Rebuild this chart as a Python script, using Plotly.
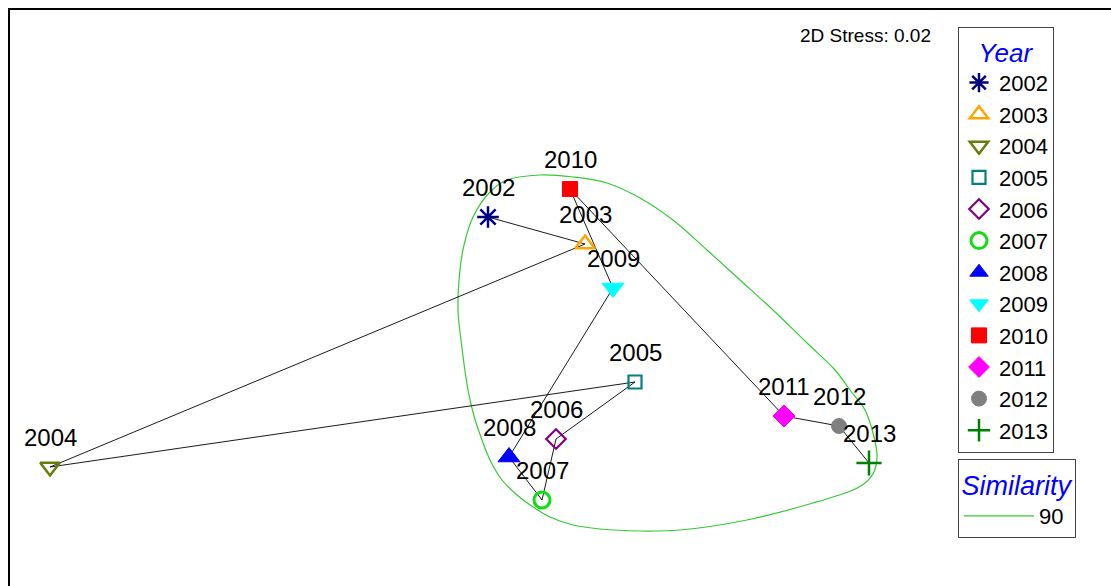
import plotly.graph_objects as go

# ---- data (MDS coordinates) ----
years = ["2002", "2003", "2004", "2005", "2006", "2007",
         "2008", "2009", "2010", "2011", "2012", "2013"]
mds_x = [-0.36, 0.125, -2.55, 0.375, -0.02, -0.09,
         -0.255, 0.265, 0.05, 1.12, 1.395, 1.545]
mds_y = [0.665, 0.53, -0.585, -0.16, -0.445, -0.75,
         -0.535, 0.31, 0.805, -0.33, -0.38, -0.565]

symbols = ["asterisk-open", "triangle-up-open", "triangle-down-open", "square-open",
           "diamond-open", "circle-open", "triangle-up", "triangle-down",
           "square", "diamond", "circle", "cross-thin-open"]
colors = ["#000080", "#FFA500", "#6B7A0A", "#008080", "#800080", "#11DD11",
          "#0000FF", "#00FFFF", "#FF0000", "#FF00FF", "#808080", "#008000"]
sizes = [18, 17, 17, 13, 15, 16, 19, 19, 15, 17, 15, 18]
line_widths = [2.5, 2.5, 2.5, 2.2, 2.2, 3, 1, 1, 1, 1, 1, 2.5]

# similarity 90 contour (closed)
contour_x = [-0.10, 0.065, 0.235, 0.40, 0.565, 0.735, 0.90, 1.065, 1.235, 1.375,
             1.45, 1.525, 1.565, 1.585, 1.57, 1.525, 1.465, 1.265, 0.935, 0.60,
             0.40, 0.20, 0.065, -0.05, -0.135, -0.215, -0.29, -0.35, -0.39, -0.43,
             -0.46, -0.495, -0.51, -0.50, -0.48, -0.435, -0.35, -0.265, -0.10]
contour_y = [0.875, 0.865, 0.835, 0.76, 0.65, 0.50, 0.35, 0.20, 0.035, -0.10,
             -0.20, -0.30, -0.415, -0.525, -0.61, -0.665, -0.70, -0.765, -0.85, -0.90,
             -0.905, -0.895, -0.875, -0.835, -0.785, -0.725, -0.65, -0.55, -0.45, -0.33,
             -0.20, 0.05, 0.20, 0.40, 0.525, 0.665, 0.79, 0.85, 0.875]

stress_text = "2D Stress: 0.02"
similarity_level = "90"

FONT = "Liberation Sans, Arial, sans-serif"
W, H = 1111, 586

fig = go.Figure()

# contour
fig.add_trace(go.Scatter(
    x=contour_x, y=contour_y, mode="lines",
    line=dict(color="#33CC33", width=1.2, shape="spline", smoothing=1.0),
    name=similarity_level, legend="legend2", hoverinfo="skip"))

# trajectory
fig.add_trace(go.Scatter(
    x=mds_x, y=mds_y, mode="lines",
    line=dict(color="black", width=0.9),
    showlegend=False, hoverinfo="skip"))

# markers
for i, yr in enumerate(years):
    fig.add_trace(go.Scatter(
        x=[mds_x[i]], y=[mds_y[i]], mode="markers", name=yr,
        marker=dict(symbol=symbols[i], color=colors[i], size=sizes[i],
                    line=dict(color=colors[i], width=line_widths[i])),
        legend="legend"))

# labels
for i, yr in enumerate(years):
    fig.add_annotation(x=mds_x[i], y=mds_y[i], text=yr, showarrow=False,
                       yshift=30, font=dict(family=FONT, size=24, color="black"))

fig.add_annotation(xref="paper", yref="paper", x=798 / W, y=1 - 35 / H,
                   xanchor="left", yanchor="middle", text=stress_text,
                   showarrow=False, font=dict(family=FONT, size=19, color="black"))

# frame
fig.add_shape(type="rect", xref="paper", yref="paper",
              x0=9 / W, x1=1.02, y0=-0.02, y1=1 - 9 / H,
              line=dict(color="black", width=2), fillcolor="rgba(0,0,0,0)")

fig.update_layout(
    width=W, height=H,
    margin=dict(l=0, r=0, t=0, b=0),
    paper_bgcolor="white", plot_bgcolor="white",
    xaxis=dict(range=[-2.8, 2.755], visible=False, fixedrange=True),
    yaxis=dict(range=[-1.18, 1.75], visible=False, fixedrange=True),
    showlegend=True,
    legend=dict(
        x=958 / W, y=1 - 27 / H, xanchor="left", yanchor="top",
        bordercolor="#444444", borderwidth=1, bgcolor="white",
        font=dict(family=FONT, size=22, color="black"),
        title=dict(text="Year", side="top center",
                   font=dict(family=FONT, size=26, color="#0000FF", style="italic")),
        tracegroupgap=0, itemsizing="trace"),
    legend2=dict(
        x=958 / W, y=1 - 459 / H, xanchor="left", yanchor="top",
        bordercolor="#444444", borderwidth=1, bgcolor="white",
        font=dict(family=FONT, size=22, color="black"),
        title=dict(text="Similarity", side="top center",
                   font=dict(family=FONT, size=27, color="#0000FF", style="italic")),
        itemwidth=70),
    font=dict(family=FONT),
)

fig.write_html("out.html", config={"displayModeBar": False},
               post_script="document.body.style.margin='0';document.body.style.overflow='hidden';")
